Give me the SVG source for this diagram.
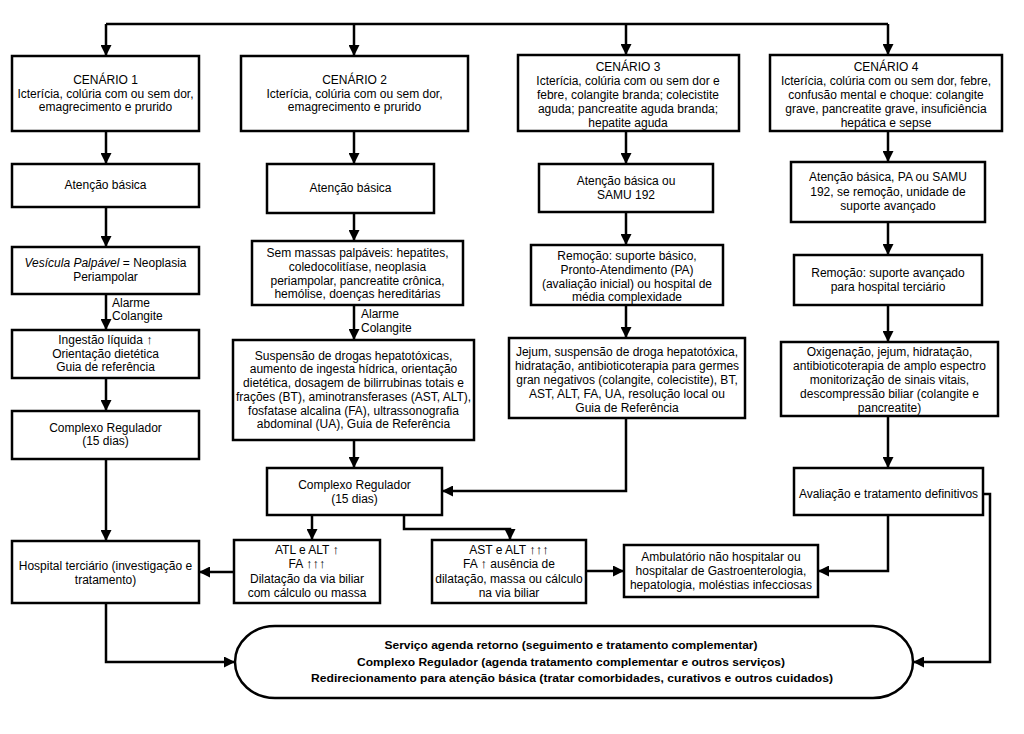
<svg xmlns="http://www.w3.org/2000/svg" width="1024" height="734" viewBox="0 0 1024 734">
<defs>
<marker id="ah" markerUnits="userSpaceOnUse" markerWidth="11" markerHeight="11" refX="11" refY="5.5" orient="auto">
<path d="M0,0 L11,5.5 L0,11 z" fill="#000"/>
</marker>
<style>
.box{fill:#fff;stroke:#000;stroke-width:2.5}
.t{font-family:"Liberation Sans",Arial,sans-serif;font-size:12px;text-anchor:middle;fill:#000}
.l{font-family:"Liberation Sans",Arial,sans-serif;font-size:12px;text-anchor:start;fill:#000}
.b{font-family:"Liberation Sans",Arial,sans-serif;font-size:11.5px;font-weight:bold;text-anchor:middle;fill:#000}
.c{fill:none;stroke:#000;stroke-width:2.5}
.m{marker-end:url(#ah)}
.up{font-size:13px}
</style>
</defs>
<rect width="1024" height="734" fill="#fff"/>
<g id="connectors">
<path class="c" d="M106,24 H888"/>
<path class="c m" d="M106,24 V56"/>
<path class="c m" d="M354,24 V56"/>
<path class="c m" d="M626,24 V55"/>
<path class="c m" d="M888,24 V55"/>
<path class="c m" d="M106,131 V164"/>
<path class="c m" d="M106,207 V247"/>
<path class="c m" d="M106,294 V330"/>
<path class="c m" d="M106,378 V411"/>
<path class="c m" d="M106,459 V541"/>
<path class="c m" d="M106,603 V662 H235"/>
<path class="c m" d="M354,131 V164"/>
<path class="c m" d="M354,213 V241"/>
<path class="c m" d="M354,305 V340"/>
<path class="c m" d="M354,440 V468"/>
<path class="c m" d="M312,515 V540"/>
<path class="c m" d="M404,515 V529 H510 V540"/>
<path class="c m" d="M234,572 H199"/>
<path class="c m" d="M626,131 V164"/>
<path class="c m" d="M626,212 V245"/>
<path class="c m" d="M626,305 V338"/>
<path class="c m" d="M626,418 V491 H442"/>
<path class="c m" d="M586,571 H624"/>
<path class="c m" d="M888,131 V162"/>
<path class="c m" d="M888,222 V255"/>
<path class="c m" d="M888,305 V342"/>
<path class="c m" d="M888,416 V468"/>
<path class="c m" d="M888,515 V571 H818"/>
<path class="c m" d="M983,494 H990 V662 H913"/>
</g>
<g id="c1"><rect class="box" x="12" y="56" width="187" height="75"/>
<text class="t" x="105.5" y="84">CENÁRIO 1</text><text class="t" x="105.5" y="98">Icterícia, colúria com ou sem dor,</text><text class="t" x="105.5" y="111">emagrecimento e prurido</text></g>
<g id="c2"><rect class="box" x="241" y="56" width="227" height="75"/>
<text class="t" x="354.5" y="84">CENÁRIO 2</text><text class="t" x="354.5" y="98">Icterícia, colúria com ou sem dor,</text><text class="t" x="354.5" y="111">emagrecimento e prurido</text></g>
<g id="c3"><rect class="box" x="518" y="55" width="221" height="76"/>
<text class="t" x="628" y="71">CENÁRIO 3</text><text class="t" x="628" y="85">Icterícia, colúria com ou sem dor e</text><text class="t" x="628" y="99">febre, colangite branda; colecistite</text><text class="t" x="628" y="113">aguda; pancreatite aguda branda;</text><text class="t" x="628" y="126.5">hepatite aguda</text></g>
<g id="c4"><rect class="box" x="770" y="55" width="232" height="76"/>
<text class="t" x="886" y="71">CENÁRIO 4</text><text class="t" x="886" y="85">Icterícia, colúria com ou sem dor, febre,</text><text class="t" x="886" y="99">confusão mental e choque: colangite</text><text class="t" x="886" y="113">grave, pancreatite grave, insuficiência</text><text class="t" x="886" y="126.5">hepática e sepse</text></g>
<g id="a1"><rect class="box" x="12" y="164" width="187" height="43"/><text class="t" x="105.5" y="189">Atenção básica</text></g>
<g id="v1"><rect class="box" x="12" y="247" width="187" height="47"/>
<text class="t" x="105.5" y="267"><tspan font-style="italic">Vesícula Palpável</tspan> = Neoplasia</text><text class="t" x="105.5" y="281">Periampolar</text></g>
<g id="alarm1"><text class="l" x="112" y="307">Alarme</text><text class="l" x="112" y="320">Colangite</text></g>
<g id="i1"><rect class="box" x="12" y="330" width="187" height="48"/>
<text class="t" x="105.5" y="344">Ingestão líquida <tspan class="up">↑</tspan></text><text class="t" x="105.5" y="358">Orientação dietética</text><text class="t" x="105.5" y="371">Guia de referência</text></g>
<g id="cr1"><rect class="box" x="12" y="411" width="187" height="48"/>
<text class="t" x="105.5" y="432">Complexo Regulador</text><text class="t" x="105.5" y="445">(15 dias)</text></g>
<g id="h1"><rect class="box" x="12" y="541" width="187" height="62"/>
<text class="t" x="105.5" y="570">Hospital terciário (investigação e</text><text class="t" x="105.5" y="584">tratamento)</text></g>
<g id="a2"><rect class="box" x="267" y="164" width="167" height="49"/><text class="t" x="350.5" y="192">Atenção básica</text></g>
<g id="s2"><rect class="box" x="252" y="241" width="211" height="64"/>
<text class="t" x="357.5" y="257">Sem massas palpáveis: hepatites,</text><text class="t" x="357.5" y="271">coledocolitíase, neoplasia</text><text class="t" x="357.5" y="285">periampolar, pancreatite crônica,</text><text class="t" x="357.5" y="298">hemólise, doenças hereditárias</text></g>
<g id="alarm2"><text class="l" x="361" y="318">Alarme</text><text class="l" x="361" y="332">Colangite</text></g>
<g id="su2"><rect class="box" x="233" y="340" width="241" height="100"/>
<text class="t" x="353.5" y="360">Suspensão de drogas hepatotóxicas,</text><text class="t" x="353.5" y="373">aumento de ingesta hídrica, orientação</text><text class="t" x="353.5" y="387">dietética, dosagem de bilirrubinas totais e</text><text class="t" x="353.5" y="401">frações (BT), aminotransferases (AST, ALT),</text><text class="t" x="353.5" y="415">fosfatase alcalina (FA), ultrassonografia</text><text class="t" x="353.5" y="428">abdominal (UA), Guia de Referência</text></g>
<g id="cr2"><rect class="box" x="267" y="468" width="175" height="47"/>
<text class="t" x="354.5" y="489">Complexo Regulador</text><text class="t" x="354.5" y="503">(15 dias)</text></g>
<g id="atl"><rect class="box" x="234" y="540" width="146" height="63"/>
<text class="t" x="307" y="554">ATL e ALT <tspan class="up">↑</tspan></text><text class="t" x="307" y="568">FA <tspan class="up">↑↑↑</tspan></text><text class="t" x="307" y="583">Dilatação da via biliar</text><text class="t" x="307" y="597">com cálculo ou massa</text></g>
<g id="ast"><rect class="box" x="432" y="540" width="154" height="63"/>
<text class="t" x="509" y="554">AST e ALT <tspan class="up">↑↑↑</tspan></text><text class="t" x="509" y="568">FA <tspan class="up">↑</tspan> ausência de</text><text class="t" x="509" y="583">dilatação, massa ou cálculo</text><text class="t" x="509" y="597">na via biliar</text></g>
<g id="a3"><rect class="box" x="539" y="164" width="174" height="48"/>
<text class="t" x="626" y="185">Atenção básica ou</text><text class="t" x="626" y="199">SAMU 192</text></g>
<g id="r3"><rect class="box" x="531" y="245" width="192" height="60"/>
<text class="t" x="627" y="260">Remoção: suporte básico,</text><text class="t" x="627" y="274">Pronto-Atendimento (PA)</text><text class="t" x="627" y="288">(avaliação inicial) ou hospital de</text><text class="t" x="627" y="301">média complexidade</text></g>
<g id="j3"><rect class="box" x="509" y="338" width="236" height="80"/>
<text class="t" x="627" y="356">Jejum, suspensão de droga hepatotóxica,</text><text class="t" x="627" y="370">hidratação, antibioticoterapia para germes</text><text class="t" x="627" y="384">gran negativos (colangite, colecistite), BT,</text><text class="t" x="627" y="398">AST, ALT, FA, UA, resolução local ou</text><text class="t" x="627" y="412">Guia de Referência</text></g>
<g id="a4"><rect class="box" x="791" y="162" width="194" height="60"/>
<text class="t" x="888" y="181">Atenção básica, PA ou SAMU</text><text class="t" x="888" y="196">192, se remoção, unidade de</text><text class="t" x="888" y="210">suporte avançado</text></g>
<g id="r4"><rect class="box" x="794" y="255" width="188" height="50"/>
<text class="t" x="888" y="277">Remoção: suporte avançado</text><text class="t" x="888" y="291">para hospital terciário</text></g>
<g id="o4"><rect class="box" x="781" y="342" width="217" height="74"/>
<text class="t" x="889.5" y="356">Oxigenação, jejum, hidratação,</text><text class="t" x="889.5" y="370">antibioticoterapia de amplo espectro</text><text class="t" x="889.5" y="384">monitorização de sinais vitais,</text><text class="t" x="889.5" y="398">descompressão biliar (colangite e</text><text class="t" x="889.5" y="412">pancreatite)</text></g>
<g id="av4"><rect class="box" x="794" y="468" width="189" height="47"/>
<text class="t" x="888.5" y="498">Avaliação e tratamento definitivos</text></g>
<g id="amb"><rect class="box" x="624" y="545" width="194" height="52"/>
<text class="t" x="721" y="561">Ambulatório não hospitalar ou</text><text class="t" x="721" y="575">hospitalar de Gastroenterologia,</text><text class="t" x="721" y="589">hepatologia, moléstias infecciosas</text></g>
<g id="term"><rect class="box" x="235" y="626" width="678" height="72" rx="40" ry="36"/>
<text class="b" x="571" y="649" textLength="373" lengthAdjust="spacingAndGlyphs">Serviço agenda retorno (seguimento e tratamento complementar)</text>
<text class="b" x="571" y="666" textLength="428" lengthAdjust="spacingAndGlyphs">Complexo Regulador (agenda tratamento complementar e outros serviços)</text>
<text class="b" x="572" y="682" textLength="522" lengthAdjust="spacingAndGlyphs">Redirecionamento para atenção básica (tratar comorbidades, curativos e outros cuidados)</text></g>
</svg>
